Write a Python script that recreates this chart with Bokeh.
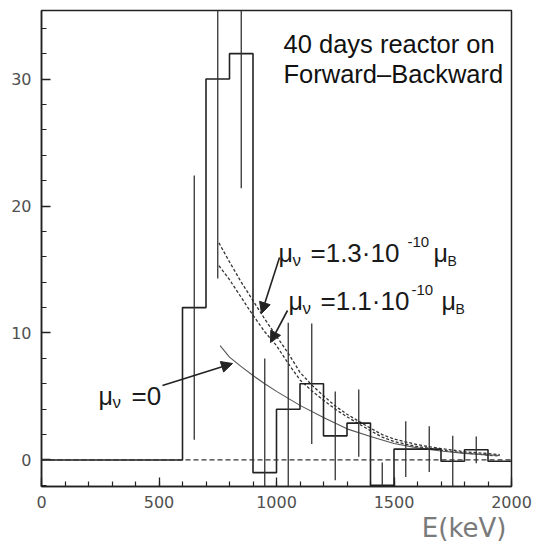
from bokeh.plotting import figure
from bokeh.models import Label, Arrow, NormalHead, Span, FixedTicker, Range1d, Title
from bokeh.embed import file_html
from bokeh.resources import INLINE

# ---------------- data ----------------
bin_edges = [0, 600, 700, 800, 900, 1000, 1100, 1200, 1300, 1400, 1500,
             1600, 1700, 1800, 1900, 2000]
counts = [0, 12, 30, 32, -1, 4, 6, 1.9, 2.9, -2, 0.85, 0.85, -0.1, 0.8, -0.1]

err_x = [650, 750, 850, 950, 1050, 1150, 1250, 1350, 1450, 1550, 1650, 1750, 1850]
err_y = [12, 30, 32, -1, 4, 6, 1.9, 2.9, -2, 0.85, 0.85, -0.1, 0.8]
err_size = [10.4, 15.7, 10.6, 9.0, 6.8, 4.75, 3.5, 2.65, 1.8, 2.2, 1.8, 2.0, 1.05]

curve13_x = [755, 800, 850, 900, 950, 1000, 1050, 1100, 1150, 1200, 1250, 1300,
             1400, 1450, 1500, 1600, 1700, 1800, 1900, 1950]
curve13_y = [17.1, 15.6, 14.0, 12.55, 11.1, 9.75, 8.4, 6.9, 5.9, 5.05, 4.25, 3.6,
             2.5, 2.0, 1.65, 1.2, 0.9, 0.65, 0.5, 0.42]

curve11_x = [755, 800, 850, 900, 950, 1000, 1050, 1100, 1150, 1200, 1250, 1300,
             1400, 1450, 1500, 1600, 1700, 1800, 1900, 1950]
curve11_y = [15.3, 14.2, 12.8, 11.4, 10.1, 9.0, 7.6, 6.3, 5.45, 4.7, 4.0, 3.4,
             2.3, 1.8, 1.45, 1.05, 0.78, 0.55, 0.38, 0.3]

curve0_x = [760, 800, 850, 900, 950, 1000, 1100, 1200, 1300, 1400, 1500, 1600,
            1700, 1800, 1900, 1950]
curve0_y = [9.0, 8.1, 7.35, 6.65, 6.0, 5.4, 4.3, 3.35, 2.45, 1.85, 1.3, 0.95,
            0.7, 0.52, 0.4, 0.35]

x_ticks = [0, 500, 1000, 1500, 2000]
y_ticks = [0, 10, 20, 30]

# ---------------- figure ----------------
X0, X1 = 0, 2000
Y0, Y1 = -2.09, 35.4
L, R, T, B = 41, 22, 10, 58
W, H = 533, 544

p = figure(width=W, height=H, x_range=Range1d(X0, X1), y_range=Range1d(Y0, Y1),
           output_backend="svg", toolbar_location=None,
           min_border_left=L, min_border_right=R, min_border_top=T, min_border_bottom=B)
p.background_fill_color = "white"
p.border_fill_color = "white"
p.xgrid.visible = False
p.ygrid.visible = False
p.outline_line_color = "#222222"
p.outline_line_width = 1.5

for ax in (p.xaxis[0], p.yaxis[0]):
    ax.axis_line_color = "#222222"
    ax.axis_line_width = 1.5
    ax.major_tick_in = 9
    ax.major_tick_out = 0
    ax.minor_tick_in = 5
    ax.minor_tick_out = 0
    ax.major_tick_line_color = "#222222"
    ax.minor_tick_line_color = "#222222"
    ax.major_tick_line_width = 1.3
    ax.minor_tick_line_width = 1.2
    ax.major_label_text_font = "DejaVu Sans"
    ax.major_label_text_font_size = "16px"
    ax.major_label_text_color = "#505050"
p.xaxis[0].ticker = FixedTicker(ticks=x_ticks, minor_ticks=list(range(0, 2001, 100)))
p.yaxis[0].ticker = FixedTicker(ticks=y_ticks, minor_ticks=list(range(-2, 36, 2)))
p.xaxis[0].major_label_standoff = 9
p.yaxis[0].major_label_standoff = 10

# x-axis title, right aligned under the axis
p.add_layout(Title(text="E(keV)", align="right", text_font="DejaVu Sans",
                   text_font_size="26px", text_color="#7a7a7a",
                   text_font_style="normal", standoff=0, offset=5), "below")

# zero reference line
p.add_layout(Span(location=0, dimension="width", line_color="#333333",
                  line_dash="5 3", line_width=1.2))

# theory curves
p.line(curve13_x, curve13_y, line_color="#333333", line_width=1.3, line_dash="3 2")
p.line(curve11_x, curve11_y, line_color="#333333", line_width=1.3, line_dash="3 2")
p.line(curve0_x, curve0_y, line_color="#555555", line_width=1.1)

# histogram as step line
hx, hy = [], []
for i, c in enumerate(counts):
    hx += [bin_edges[i], bin_edges[i + 1]]
    hy += [c, c]
p.line(hx, hy, line_color="#222222", line_width=1.6)

# error bars
p.segment(x0=err_x, x1=err_x,
          y0=[v - e for v, e in zip(err_y, err_size)],
          y1=[v + e for v, e in zip(err_y, err_size)],
          line_color="#333333", line_width=1.3)

# ---------------- annotations ----------------
def px2x(px):
    return X0 + (px - L) / (W - L - R) * (X1 - X0)

def px2y(py):
    return Y1 - (py - T) / (H - T - B) * (Y1 - Y0)

def put(text, px, py, size, font="Liberation Sans", color="#1a1a1a"):
    p.add_layout(Label(x=px2x(px), y=px2y(py), text=text, text_font=font,
                       text_font_size=f"{size}px", text_color=color,
                       text_align="left", text_baseline="alphabetic"))

put("40 days reactor on", 283, 43, 25.5, color="#111111")
put("Forward\u2013Backward", 283, 73, 25.5, color="#111111")

# mu_nu = 1.3e-10 mu_B
put("\u03bc", 278, 252, 25)
put("\u03bd", 292, 260, 17)
put("=1.3\u00b710", 310, 252, 26)
put("-10", 407, 241, 15)
put("\u03bc", 433, 252, 25)
put("B", 447, 260, 14)

# mu_nu = 1.1e-10 mu_B
put("\u03bc", 288, 300, 25)
put("\u03bd", 302, 308, 17)
put("=1.1\u00b710", 320, 300, 26)
put("-10", 411, 289, 15)
put("\u03bc", 441, 300, 25)
put("B", 455, 308, 14)

# mu_nu = 0
put("\u03bc", 98, 395, 25)
put("\u03bd", 112, 402, 17)
put("=0", 131, 395, 26)

def arrow(sx, sy, ex, ey):
    p.add_layout(Arrow(end=NormalHead(size=11, fill_color="#222222", line_color="#222222"),
                       x_start=px2x(sx), y_start=px2y(sy), x_end=px2x(ex), y_end=px2y(ey),
                       line_color="#222222", line_width=1.6))

arrow(279, 257, 261, 313)
arrow(287, 310, 270, 342)
arrow(162, 385, 232, 363)

open("out.html", "w").write(file_html(p, INLINE))
